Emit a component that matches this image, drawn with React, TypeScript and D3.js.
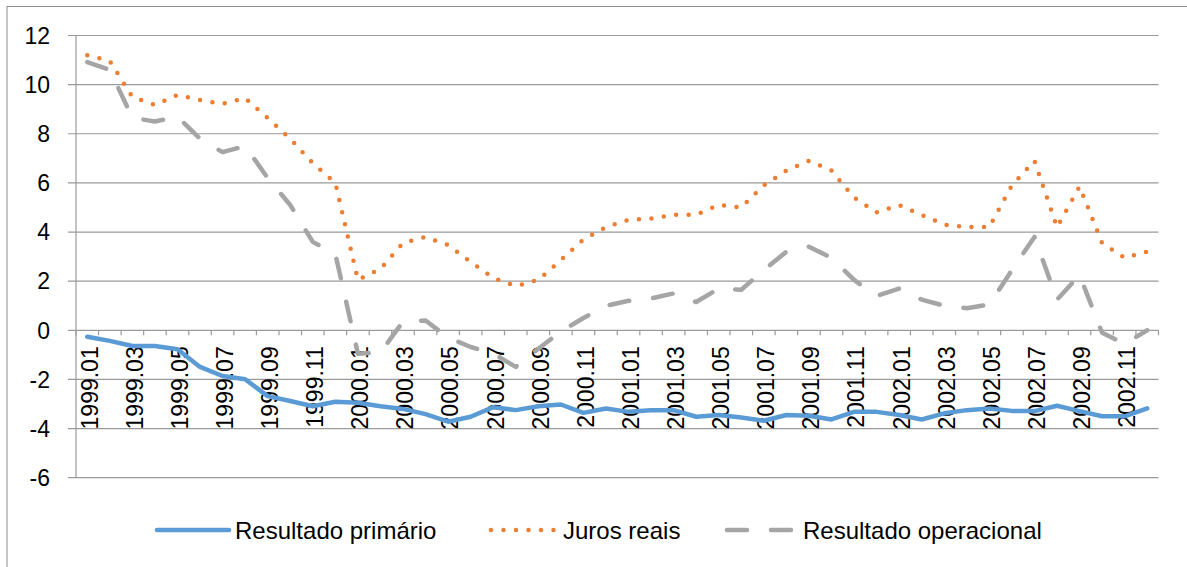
import React, { useEffect, useRef } from 'react';
import * as d3 from 'd3';

// meses 1999.01 .. 2002.12
const years = ['1999', '2000', '2001', '2002'];
const monthNums = ['01', '02', '03', '04', '05', '06', '07', '08', '09', '10', '11', '12'];
const months: string[] = [];
years.forEach(y => monthNums.forEach(m => months.push(y + '.' + m)));

const yTicks = [-6, -4, -2, 0, 2, 4, 6, 8, 10, 12];

const primario = [
  -0.26, -0.43, -0.64, -0.64, -0.77, -1.49, -1.86, -1.99, -2.68, -2.88, -3.09, -2.91,
  -2.95, -3.09, -3.2, -3.41, -3.72, -3.52, -3.13, -3.25, -3.09, -3.02, -3.36, -3.18,
  -3.32, -3.25, -3.25, -3.52, -3.45, -3.55, -3.68, -3.45, -3.48, -3.63, -3.32, -3.32,
  -3.45, -3.63, -3.38, -3.25, -3.18, -3.28, -3.29, -3.07, -3.29, -3.5, -3.5, -3.18
];
const juros = [
  11.2, 10.96, 9.5, 9.17, 9.58, 9.37, 9.22, 9.45, 8.64, 7.8, 6.8, 6.0,
  2.05, 2.5, 3.55, 3.8, 3.47, 2.78, 2.13, 1.8, 2.05, 2.86, 3.7, 4.2,
  4.5, 4.55, 4.7, 4.7, 5.1, 5.0, 5.9, 6.5, 6.9, 6.5, 5.4, 4.8,
  5.1, 4.7, 4.3, 4.2, 4.2, 5.9, 6.9, 4.2, 5.85, 3.55, 2.95, 3.2
];
const operacional = [
  10.92, 10.6, 8.65, 8.5, 8.7, 7.8, 7.25, 7.5, 6.2, 5.1, 3.6, 3.1,
  -0.95, -0.9, 0.35, 0.4, -0.3, -0.68, -0.95, -1.49, -0.75, -0.05, 0.5, 1.0,
  1.2, 1.3, 1.5, 1.15, 1.7, 1.65, 2.45, 3.2, 3.4, 2.95, 2.05, 1.4,
  1.7, 1.25, 1.0, 0.9, 1.05, 2.45, 3.8, 1.25, 2.25, -0.1, -0.55, 0.0
];

const seriesNames = ['Resultado primário', 'Juros reais', 'Resultado operacional'];
const colors = ['#5B9BD5', '#ED7D31', '#A5A5A5'];
const dashes = ['none', '0 12.5', '20 24'];

const W = 1187, H = 567;
const FONT = '"Liberation Sans", Arial, sans-serif';

function App() {
  const ref = useRef<SVGSVGElement>(null);

  useEffect(() => {
    const svg = d3.select(ref.current);
    svg.selectAll('*').remove();

    const left = 76, right = 1158.5, top = 35.5, bottom = 477.7;

    const x = d3.scaleBand().domain(months).range([left, right]);
    const cx = (m: string) => (x(m) as number) + x.bandwidth() / 2;
    const y = d3.scaleLinear().domain([-6, 12]).range([bottom, top]);

    // borda do gráfico
    svg.append('rect')
      .attr('x', 7).attr('y', 6.5)
      .attr('width', W + 20).attr('height', H + 20)
      .attr('fill', 'white').attr('stroke', '#8c8c8c').attr('stroke-width', 1);

    // linhas de grade
    svg.append('g').selectAll('line').data(yTicks).enter().append('line')
      .attr('x1', 68).attr('x2', right)
      .attr('y1', d => y(d)).attr('y2', d => y(d))
      .attr('stroke', '#9a9a9a').attr('stroke-width', 1.2);

    // eixo vertical
    svg.append('line')
      .attr('x1', left).attr('x2', left).attr('y1', top).attr('y2', bottom)
      .attr('stroke', '#9a9a9a').attr('stroke-width', 1.2);

    // rótulos do eixo y
    svg.append('g').selectAll('text').data(yTicks).enter().append('text')
      .attr('x', 50).attr('y', d => y(d))
      .attr('text-anchor', 'end').attr('dy', '0.36em')
      .style('font-family', FONT).style('font-size', '23px')
      .text(d => d);

    // marcas do eixo x (na linha do zero)
    const y0 = y(0);
    const bounds = months.map(m => x(m) as number).concat([right]);
    svg.append('g').selectAll('line').data(bounds).enter().append('line')
      .attr('x1', d => d).attr('x2', d => d)
      .attr('y1', y0).attr('y2', y0 + 5)
      .attr('stroke', '#9a9a9a').attr('stroke-width', 1.2);

    // rótulos do eixo x, verticais
    svg.append('g').selectAll('text')
      .data(months.filter((m, i) => i % 2 === 0)).enter().append('text')
      .attr('transform', d => 'translate(' + cx(d) + ',' + (y0 + 16) + ') rotate(-90)')
      .attr('text-anchor', 'end').attr('dy', '0.45em')
      .style('font-family', FONT).style('font-size', '23px')
      .text(d => d);

    // séries
    const data = [primario, juros, operacional];
    const line = d3.line<number>()
      .x((d, i) => cx(months[i]))
      .y(d => y(d));
    data.forEach((s, k) => {
      svg.append('path')
        .attr('d', line(s) as string)
        .attr('fill', 'none')
        .attr('stroke', colors[k])
        .attr('stroke-width', 4.5)
        .attr('stroke-linecap', 'round')
        .attr('stroke-linejoin', 'round')
        .attr('stroke-dasharray', dashes[k]);
    });

    // legenda
    const legX = [157, 491, 727];
    const legLen = [72, 66, 70];
    const legY = 530;
    seriesNames.forEach((name, k) => {
      svg.append('line')
        .attr('x1', legX[k]).attr('x2', legX[k] + legLen[k])
        .attr('y1', legY).attr('y2', legY)
        .attr('stroke', colors[k]).attr('stroke-width', 4.5)
        .attr('stroke-linecap', 'round')
        .attr('stroke-dasharray', dashes[k]);
      svg.append('text')
        .attr('x', legX[k] + legLen[k] + 6).attr('y', legY)
        .attr('dy', '0.36em')
        .style('font-family', FONT).style('font-size', '24px')
        .text(name);
    });
  }, []);

  return (
    <svg ref={ref} width={W} height={H}
      style={{ position: 'absolute', left: 0, top: 0, background: 'white' }} />
  );
}

export default App;
